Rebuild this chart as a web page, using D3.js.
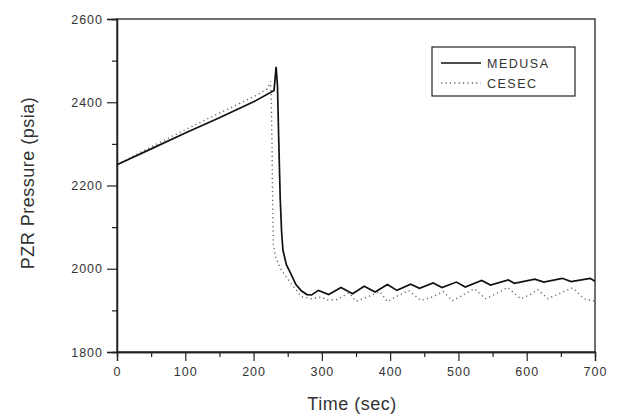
<!DOCTYPE html>
<html><head><meta charset="utf-8">
<script src="https://cdn.jsdelivr.net/npm/d3@7"></script>
<style>
html,body{margin:0;padding:0;background:#fff;}
svg{display:block;font-family:Arial,"Liberation Sans",sans-serif;}
</style></head>
<body><svg id="c" width="617" height="417"></svg>
<script>
const medusaT = [0,50,100,150,200,230,233,235,237,239,241,243,248,254,262,270,278,285,295,310,328,345,362,378,396,410,430,443,463,476,497,510,534,547,573,582,612,625,652,665,693,700];
const medusaV = [2250,2288,2326,2363,2401,2428,2485,2440,2300,2170,2090,2045,2010,1990,1962,1947,1938,1937,1948,1938,1955,1940,1958,1944,1962,1948,1963,1953,1966,1955,1968,1956,1972,1961,1973,1965,1975,1968,1977,1969,1977,1970];
const cesecT = [0,50,100,150,200,220,225,226,227,228,229,232,239,251,262,270,285,300,307,322,340,350,365,385,396,410,427,445,460,478,491,505,523,540,555,572,591,605,616,631,650,667,684,700];
const cesecV = [2250,2293,2334,2374,2413,2432,2450,2400,2300,2150,2060,2030,2001,1973,1950,1933,1928,1932,1925,1926,1942,1922,1931,1945,1921,1934,1948,1924,1931,1945,1923,1935,1952,1928,1940,1955,1928,1938,1950,1928,1942,1954,1928,1922];
const xTicks = [0,100,200,300,400,500,600,700];
const yTicks = [1800,2000,2200,2400,2600];
const xMinor = [50,150,250,350,450,550,650];
const yMinor = [1900,2100,2300,2500];
const seriesNames = ["MEDUSA","CESEC"];

const svg = d3.select("#c");
const L=117, R=595, T=19, B=352;
const x = d3.scaleLinear().domain([0,700]).range([L,R]);
const y = d3.scaleLinear().domain([1800,2600]).range([B,T]);

svg.append("rect").attr("x",L).attr("y",T).attr("width",R-L).attr("height",B-T)
  .attr("fill","none").attr("stroke","#222").attr("stroke-width",1.3);

svg.append("g").attr("transform",`translate(0,${B})`)
  .call(d3.axisBottom(x).tickValues(xTicks).tickSize(9).tickPadding(6).tickFormat(d3.format("d")));
svg.append("g").attr("transform",`translate(${L},0)`)
  .call(d3.axisLeft(y).tickValues(yTicks).tickSize(10).tickPadding(4).tickFormat(d3.format("d")));
svg.append("g").attr("transform",`translate(0,${B})`)
  .call(d3.axisBottom(x).tickValues(xMinor).tickSize(5).tickFormat(""));
svg.append("g").attr("transform",`translate(${L},0)`)
  .call(d3.axisLeft(y).tickValues(yMinor).tickSize(5).tickFormat(""));
svg.selectAll(".domain").attr("stroke","#222").attr("stroke-width",1.3);
svg.selectAll(".tick line").attr("stroke","#222").attr("stroke-width",1.2);
svg.selectAll(".tick text").attr("font-size",12.5).attr("fill","#333")
  .attr("letter-spacing","1px").attr("font-family","Arial,'Liberation Sans',sans-serif");

const line = d3.line().x(d=>x(d[0])).y(d=>y(d[1]));
const cesec = cesecT.map((t,i)=>[t,cesecV[i]]);
const medusa = medusaT.map((t,i)=>[t,medusaV[i]]);
svg.append("path").datum(cesec).attr("d",line).attr("fill","none")
  .attr("stroke","#666").attr("stroke-width",1.4).attr("stroke-dasharray","1.2,3.2");
svg.append("path").datum(medusa).attr("d",line).attr("fill","none")
  .attr("stroke","#111").attr("stroke-width",1.7);

const lg = svg.append("g");
lg.append("rect").attr("x",432).attr("y",47).attr("width",143).attr("height",49)
  .attr("fill","#fff").attr("stroke","#222").attr("stroke-width",1.2);
lg.append("line").attr("x1",441).attr("x2",481).attr("y1",63).attr("y2",63)
  .attr("stroke","#111").attr("stroke-width",1.3);
lg.append("line").attr("x1",441).attr("x2",481).attr("y1",83).attr("y2",83)
  .attr("stroke","#666").attr("stroke-width",1.3).attr("stroke-dasharray","1.2,3.2");
lg.selectAll("text.lt").data(seriesNames).enter().append("text")
  .attr("x",487).attr("y",(d,i)=>67.5+i*20).text(d=>d)
  .attr("font-size",12.5).attr("letter-spacing","1.5px").attr("fill","#333");

svg.append("text").attr("x",352).attr("y",410).attr("text-anchor","middle")
  .attr("font-size",18).attr("letter-spacing","0.5px").attr("fill","#333").text("Time (sec)");
svg.append("text").attr("transform",`translate(34,183) rotate(-90)`)
  .attr("text-anchor","middle").attr("font-size",18).attr("letter-spacing","0.5px").attr("fill","#333").text("PZR Pressure (psia)");
</script></body></html>
